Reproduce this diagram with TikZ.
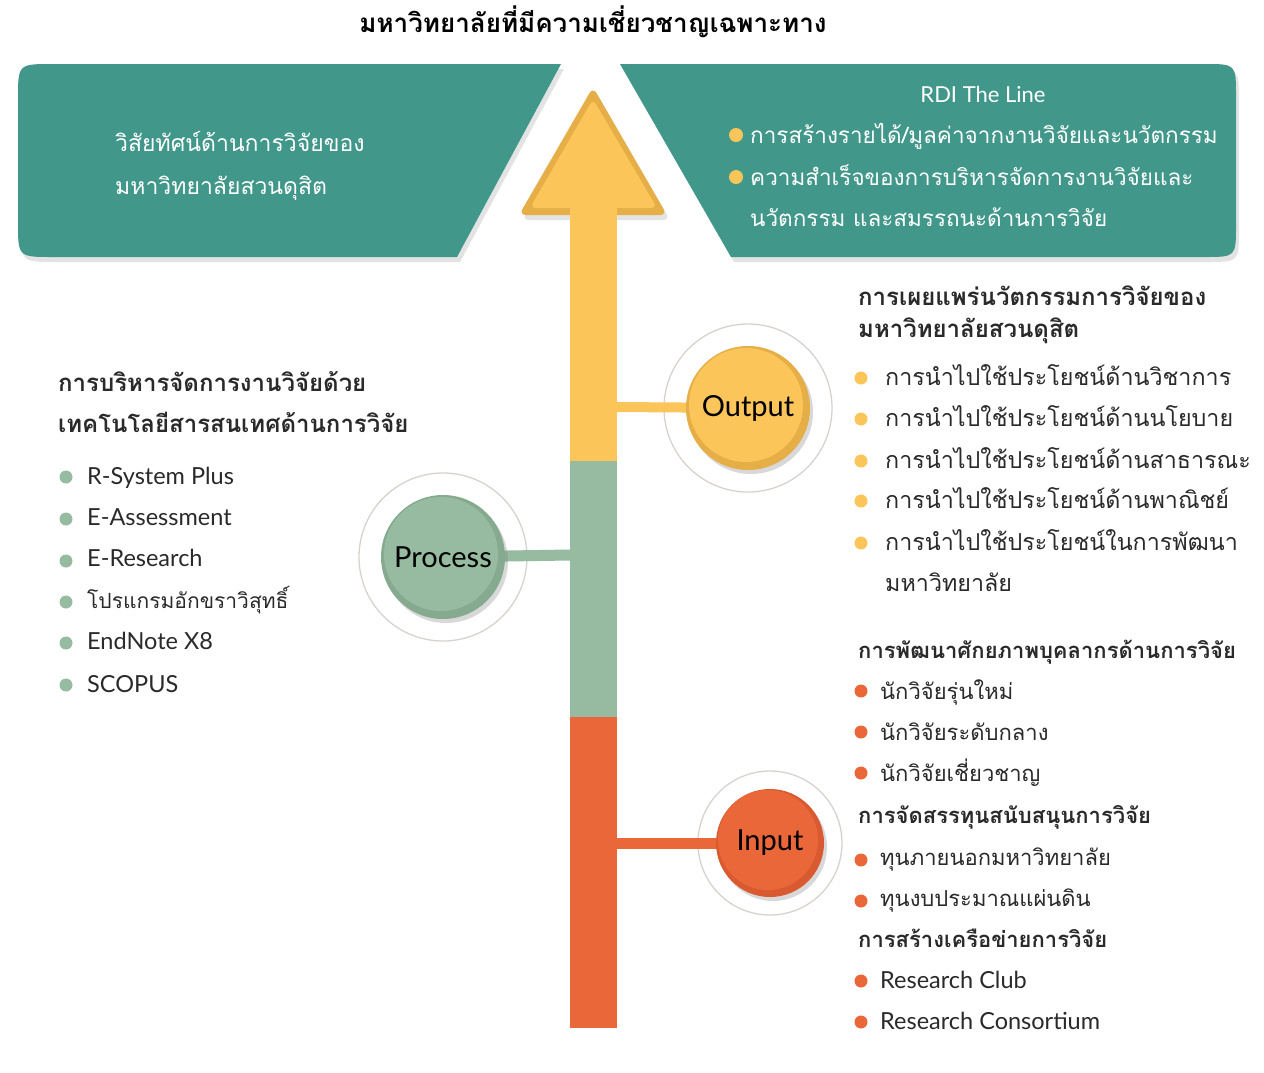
\documentclass[tikz,border=0pt]{standalone}
\usepackage{fontspec}
\setmainfont{Lato}
\newfontfamily\thai[Script=Thai]{Loma}
\newfontfamily\lat{Lato}
\usetikzlibrary{shadows}
\definecolor{cTeal}{HTML}{419789}
\definecolor{cYel}{HTML}{FBC55A}
\definecolor{cYelD}{HTML}{E6AE47}
\definecolor{cGrn}{HTML}{97BBA1}
\definecolor{cGrnD}{HTML}{86AA90}
\definecolor{cOra}{HTML}{EA673A}
\definecolor{cOraD}{HTML}{D95A30}
\definecolor{cRing}{HTML}{D8D2CE}
\definecolor{cTxt}{HTML}{2A2A2A}
\tikzset{
  softshadow/.style={drop shadow={opacity=0.22,shadow xshift=3pt,shadow yshift=-5pt}},
  txtbox/.style={anchor=base west,inner sep=0pt,yshift=-8.5pt},
  thaiitem/.style={txtbox,text=cTxt,font=\thai\fontsize{22}{26}\selectfont},
  thaiitemw/.style={txtbox,text=cTxt,font=\thai\fontsize{23.3}{27}\selectfont},
  thaihead/.style={txtbox,text=cTxt,font=\thai\bfseries\fontsize{22}{26}\selectfont},
  thaiheadl/.style={txtbox,text=cTxt,font=\thai\bfseries\fontsize{24}{28}\selectfont},
  latitem/.style={txtbox,text=cTxt,font=\lat\fontsize{23.5}{27}\selectfont},
  panthai/.style={txtbox,text=white,font=\thai\fontsize{22.5}{27}\selectfont},
  ringnode/.style={circle,draw=cRing,line width=1.3pt,fill=white,inner sep=0pt},
  btn/.style={circle,inner sep=0pt,text=black,font=\lat\fontsize{29}{33}\selectfont,drop shadow={opacity=0.3,shadow xshift=3pt,shadow yshift=-4pt}},
}
\begin{document}
\begin{tikzpicture}[x=1pt,y=-1pt]
\useasboundingbox[fill=white] (0,0) rectangle (1264,1072);

% title
\node[font=\thai\bfseries\fontsize{26}{30}\selectfont,text=black] (title) at (593,22) {มหาวิทยาลัยที่มีความเชี่ยวชาญเฉพาะทาง};

% panels
\path[fill=cTeal,softshadow] (561,64) -- (457,257) -- (53,257) .. controls (18,257) .. (18,222) -- (18,99) .. controls (18,64) .. (53,64) -- cycle;
\path[fill=cTeal,softshadow] (620,64) -- (1204,64) .. controls (1236,64) .. (1236,96) -- (1236,225) .. controls (1236,257) .. (1204,257) -- (731,257) -- cycle;

% left panel text
\node[panthai,font=\thai\fontsize{23}{27}\selectfont] (v1) at (115,143) {วิสัยทัศน์ด้านการวิจัยของ};
\node[panthai,font=\thai\fontsize{23}{27}\selectfont] (v2) at (115,186) {มหาวิทยาลัยสวนดุสิต};

% right panel text
\node[inner sep=0pt,text=white,font=\lat\fontsize{22}{26}\selectfont] (rdi) at (983,94) {RDI The Line};
\fill[cYel] (736,135) circle (7);
\fill[cYel] (736,177) circle (7);
\node[panthai] (r1) at (750,135) {การสร้างรายได้/มูลค่าจากงานวิจัยและนวัตกรรม};
\node[panthai] (r2) at (750,177) {ความสำเร็จของการบริหารจัดการงานวิจัยและ};
\node[panthai] (r3) at (750,218) {นวัตกรรม และสมรรถนะด้านการวิจัย};

% arrow head
\path[fill=cYelD,rounded corners=7,softshadow] (593,87) -- (667,215) -- (519,215) -- cycle;
\path[fill=cYel,rounded corners=6] (593,99) -- (657,208) -- (530,208) -- cycle;

% shaft
\fill[cYel] (570,208) rectangle (617,461);
\fill[cGrn] (570,461) rectangle (617,717);
\fill[cOra] (570,717) rectangle (617,1028);
\coordinate (sO) at (617,407);
\coordinate (sP) at (570,555);
\coordinate (sI) at (617,843);

% Output
\node[ringnode,minimum size=168pt] (ringO) at (748,408) {};
\draw[cYel,line width=10pt] (sO) -- (ringO.center);
\node[btn,fill=cYelD,minimum size=124pt,path picture={\fill[cYel] ([xshift=-2pt,yshift=3pt]path picture bounding box.center) circle (57pt);}] (out) at (748,408) {Output};

% Process
\node[ringnode,minimum size=168pt] (ringP) at (443,557) {};
\draw[cGrn,line width=11pt] (ringP.center) -- (sP);
\node[btn,fill=cGrnD,minimum size=124pt,path picture={\fill[cGrn] ([xshift=-2pt,yshift=3pt]path picture bounding box.center) circle (57pt);}] (proc) at (443,557) {Process};

% Input
\node[ringnode,minimum size=144pt] (ringI) at (770,843) {};
\draw[cOra,line width=11pt] (sI) -- (ringI.center);
\node[btn,fill=cOraD,minimum size=108pt,path picture={\fill[cOra] ([xshift=-2pt,yshift=3pt]path picture bounding box.center) circle (50pt);}] (inp) at (770,843) {Input};

% upper right list
\node[thaiheadl] (h1a) at (858,297) {การเผยแพร่นวัตกรรมการวิจัยของ};
\node[thaiheadl] (h1b) at (858,329) {มหาวิทยาลัยสวนดุสิต};
\foreach \yy in {378,419,461,501,543} {\fill[cYel] (861,\yy) circle (6.5);}
\node[thaiitemw] (o1) at (885,377) {การนำไปใช้ประโยชน์ด้านวิชาการ};
\node[thaiitemw] (o2) at (885,418) {การนำไปใช้ประโยชน์ด้านนโยบาย};
\node[thaiitemw] (o3) at (885,460) {การนำไปใช้ประโยชน์ด้านสาธารณะ};
\node[thaiitemw] (o4) at (885,500) {การนำไปใช้ประโยชน์ด้านพาณิชย์};
\node[thaiitemw] (o5) at (885,542) {การนำไปใช้ประโยชน์ในการพัฒนา};
\node[thaiitemw] (o6) at (885,583) {มหาวิทยาลัย};

% lower right list
\node[thaihead] (h2) at (858,650) {การพัฒนาศักยภาพบุคลากรด้านการวิจัย};
\foreach \yy in {691,732,773,860,901,981,1022} {\fill[cOra] (861,\yy) circle (6.5);}
\node[thaiitem] (i1) at (880,691) {นักวิจัยรุ่นใหม่};
\node[thaiitem] (i2) at (880,732) {นักวิจัยระดับกลาง};
\node[thaiitem] (i3) at (880,773) {นักวิจัยเชี่ยวชาญ};
\node[thaihead] (h3) at (858,815) {การจัดสรรทุนสนับสนุนการวิจัย};
\node[thaiitem] (i4) at (880,857) {ทุนภายนอกมหาวิทยาลัย};
\node[thaiitem] (i5) at (880,898) {ทุนงบประมาณแผ่นดิน};
\node[thaihead] (h4) at (858,939) {การสร้างเครือข่ายการวิจัย};
\node[latitem] (i6) at (880,980) {Research Club};
\node[latitem] (i7) at (880,1021) {Research Consortium};

% left list
\node[thaiheadl] (h5a) at (58,383) {การบริหารจัดการงานวิจัยด้วย};
\node[thaiheadl] (h5b) at (58,424) {เทคโนโลยีสารสนเทศด้านการวิจัย};
\foreach \yy in {477,519,561,602,643,685} {\fill[cGrn] (66,\yy) circle (6.5);}
\node[latitem] (p1) at (87,476) {R-System Plus};
\node[latitem] (p2) at (87,517) {E-Assessment};
\node[latitem] (p3) at (87,558) {E-Research};
\node[thaiitem,font=\thai\fontsize{21}{25}\selectfont] (p4) at (87,600) {โปรแกรมอักขราวิสุทธิ์};
\node[latitem] (p5) at (87,641) {EndNote X8};
\node[latitem] (p6) at (87,684) {SCOPUS};
\end{tikzpicture}
\end{document}
